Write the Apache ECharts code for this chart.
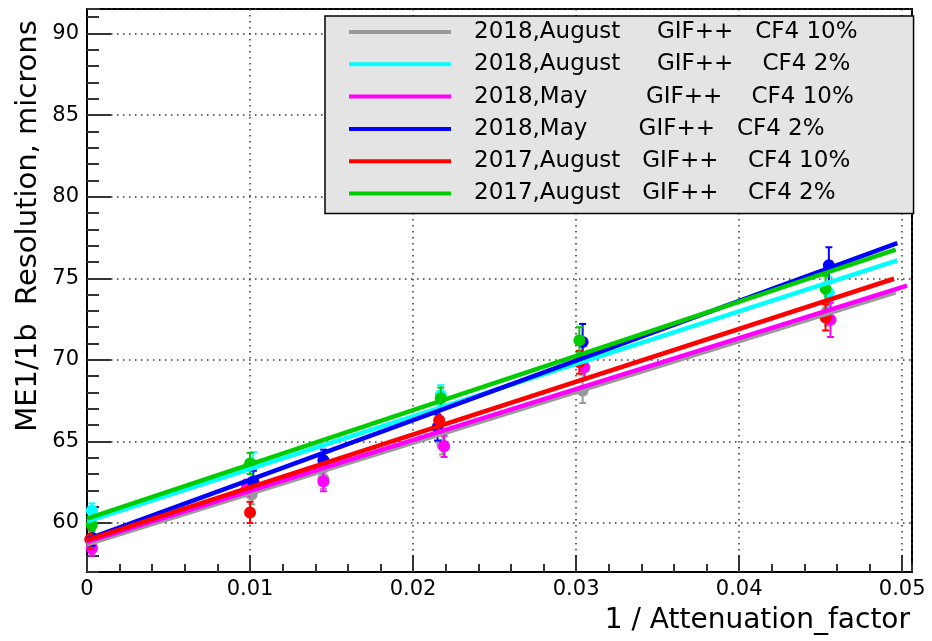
<!DOCTYPE html>
<html>
<head>
<meta charset="utf-8">
<title>ME1/1b resolution vs 1 / Attenuation_factor</title>
<script src="https://cdn.jsdelivr.net/npm/echarts@6/dist/echarts.min.js"></script>
<style>
  html, body { margin: 0; padding: 0; background: #fff; }
  #chart { width: 932px; height: 641px; }
</style>
</head>
<body>
<div id="chart"></div>
<script>
// ---- measurements: x = 1 / attenuation factor, y = resolution (microns), e = error ----
const aug18cf10X = [0.0003, 0.0101, 0.0145, 0.0218, 0.0304, 0.0454];
const aug18cf10Y = [58.55, 61.75, 62.70, 64.80, 68.10, 73.00];
const aug18cf10E = [0.45, 0.60, 0.60, 0.60, 0.75, 0.90];

const aug18cf2X = [0.0003, 0.0102, 0.0217, 0.0304, 0.0455];
const aug18cf2Y = [60.75, 63.55, 67.85, 69.95, 74.10];
const aug18cf2E = [0.45, 0.80, 0.60, 0.90, 1.00];

const may18cf10X = [0.0003, 0.0098, 0.0145, 0.0219, 0.0305, 0.0456];
const may18cf10Y = [58.45, 62.15, 62.55, 64.70, 69.55, 72.45];
const may18cf10E = [0.45, 0.50, 0.60, 0.65, 0.75, 1.05];

const may18cf2X = [0.0003, 0.0102, 0.0145, 0.0215, 0.0304, 0.0455];
const may18cf2Y = [59.10, 62.55, 63.85, 65.85, 71.10, 75.80];
const may18cf2E = [0.50, 0.65, 0.65, 0.80, 1.10, 1.10];

const aug17cf10X = [0.0002, 0.0100, 0.0216, 0.0302, 0.0453];
const aug17cf10Y = [59.00, 60.65, 66.30, 69.85, 72.60];
const aug17cf10E = [0.60, 0.65, 0.75, 0.70, 0.80];

const aug17cf2X = [0.0003, 0.0100, 0.0217, 0.0302, 0.0453];
const aug17cf2Y = [59.90, 63.65, 67.65, 71.20, 74.35];
const aug17cf2E = [0.40, 0.65, 0.65, 0.80, 0.80];

// ---- linear fits: [x, y] at the start and end of each fitted line ----
const aug18cf10Fit = [[0, 58.70], [0.0496, 74.13]];
const aug18cf2Fit  = [[0, 60.10], [0.0497, 76.10]];
const may18cf10Fit = [[0, 58.85], [0.0503, 74.55]];
const may18cf2Fit  = [[0, 59.00], [0.0497, 77.15]];
const aug17cf10Fit = [[0, 58.95], [0.0495, 74.97]];
const aug17cf2Fit  = [[0, 60.27], [0.0496, 76.75]];

const legendNames = [
  '2018,August     GIF++   CF4 10%',
  '2018,August     GIF++    CF4 2%',
  '2018,May        GIF++    CF4 10%',
  '2018,May       GIF++   CF4 2%',
  '2017,August   GIF++    CF4 10%',
  '2017,August   GIF++    CF4 2%'
];

// axis ranges
const xRange = [0, 0.0506];
const yRange = [57, 91.5];
const xMajorStep = 0.01, xMinorStep = 0.002;
const yMajorStep = 5, yMinorStep = 1;

const xTitle = '1 / Attenuation_factor';
const yTitle = 'ME1/1b  Resolution, microns';

// ---- styling ----
const colors = ['#999999', '#00ffff', '#ff00ff', '#0000ff', '#ff0000', '#00cc00'];
const FONT = '"DejaVu Sans", "Liberation Sans", Arial, sans-serif';

const sets = [
  { x: aug18cf10X, y: aug18cf10Y, e: aug18cf10E, fit: aug18cf10Fit },
  { x: aug18cf2X,  y: aug18cf2Y,  e: aug18cf2E,  fit: aug18cf2Fit },
  { x: may18cf10X, y: may18cf10Y, e: may18cf10E, fit: may18cf10Fit },
  { x: may18cf2X,  y: may18cf2Y,  e: may18cf2E,  fit: may18cf2Fit },
  { x: aug17cf10X, y: aug17cf10Y, e: aug17cf10E, fit: aug17cf10Fit },
  { x: aug17cf2X,  y: aug17cf2Y,  e: aug17cf2E,  fit: aug17cf2Fit }
];

const series = [];
sets.forEach((s, k) => {
  const col = colors[k];
  // markers with vertical error bars
  series.push({
    type: 'custom',
    xAxisIndex: 0,
    yAxisIndex: 0,
    data: s.x.map((x, i) => [x, s.y[i], s.e[i]]),
    encode: { x: 0, y: 1 },
    renderItem: function (params, api) {
      const x = api.value(0), y = api.value(1), e = api.value(2);
      const c = api.coord([x, y]);
      const hi = api.coord([x, y + e]);
      const lo = api.coord([x, y - e]);
      const st = { stroke: col, lineWidth: 2 };
      return {
        type: 'group',
        children: [
          { type: 'line', shape: { x1: c[0], y1: hi[1], x2: c[0], y2: lo[1] }, style: st },
          { type: 'line', shape: { x1: c[0] - 3.5, y1: hi[1], x2: c[0] + 3.5, y2: hi[1] }, style: st },
          { type: 'line', shape: { x1: c[0] - 3.5, y1: lo[1], x2: c[0] + 3.5, y2: lo[1] }, style: st },
          { type: 'circle', shape: { cx: c[0], cy: c[1], r: 6 }, style: { fill: col } }
        ]
      };
    },
    silent: true
  });
  // fitted straight line
  series.push({
    type: 'line',
    name: legendNames[k],
    xAxisIndex: 0,
    yAxisIndex: 0,
    data: s.fit,
    symbol: 'none',
    showSymbol: false,
    color: col,
    lineStyle: { color: col, width: 4.5 },
    silent: true
  });
});

const dotted = { color: '#333', width: 1.5, type: [1.5, 4.5] };
const tickStyle = { color: '#333', width: 2 };
const labelStyle = { color: '#000', fontSize: 21, fontFamily: FONT };
const axisLineStyle = { color: '#000', width: 2 };

const chart = echarts.init(document.getElementById('chart'), null, { renderer: 'canvas' });
chart.setOption({
  animation: false,
  backgroundColor: '#fff',
  grid: {
    left: 87, right: 20, top: 9, bottom: 69,
    show: true, borderColor: '#000', borderWidth: 2, backgroundColor: 'transparent'
  },
  xAxis: [
    { // minor ticks
      type: 'value', position: 'bottom', min: xRange[0], max: xRange[1], interval: xMinorStep,
      axisLine: { show: true, onZero: false, lineStyle: axisLineStyle },
      axisTick: { show: true, inside: true, length: 8, lineStyle: tickStyle },
      axisLabel: { show: false },
      splitLine: { show: false }
    },
    { // major ticks, labels, grid
      type: 'value', position: 'bottom', min: xRange[0], max: xRange[1], interval: xMajorStep,
      axisLine: { show: true, onZero: false, lineStyle: axisLineStyle },
      axisTick: { show: true, inside: true, length: 17, lineStyle: tickStyle },
      axisLabel: Object.assign({ margin: 7, showMaxLabel: false }, labelStyle),
      splitLine: { show: true, lineStyle: dotted }
    }
  ],
  yAxis: [
    { // minor ticks
      type: 'value', position: 'left', min: yRange[0], max: yRange[1], interval: yMinorStep,
      axisLine: { show: true, onZero: false, lineStyle: axisLineStyle },
      axisTick: { show: true, inside: true, length: 12, lineStyle: tickStyle },
      axisLabel: { show: false },
      splitLine: { show: false }
    },
    { // major ticks, labels, grid
      type: 'value', position: 'left', min: yRange[0], max: yRange[1],
      minInterval: yMajorStep, maxInterval: yMajorStep,
      axisLine: { show: true, onZero: false, lineStyle: axisLineStyle },
      axisTick: { show: true, inside: true, length: 24, lineStyle: tickStyle },
      axisLabel: Object.assign({ margin: 8, showMinLabel: false, showMaxLabel: false }, labelStyle),
      splitLine: { show: true, lineStyle: dotted }
    }
  ],
  legend: {
    data: legendNames,
    orient: 'vertical',
    left: 325, top: 16,
    padding: [3, 56, 7, 22],
    itemGap: 6.3,
    itemWidth: 102, itemHeight: 14,
    itemStyle: { borderWidth: 0, opacity: 0 },
    lineStyle: { width: 4 },
    backgroundColor: '#e4e4e4',
    borderColor: '#000', borderWidth: 1.5,
    selectedMode: false,
    textStyle: { color: '#000', fontSize: 23, fontFamily: FONT, lineHeight: 26, padding: [0, 0, 0, 18] }
  },
  graphic: [
    {
      type: 'text', x: 910, y: 621, silent: true,
      style: { text: xTitle, fill: '#000', font: '28px ' + FONT, align: 'right', verticalAlign: 'middle' }
    },
    {
      type: 'text', x: 28, y: 226, rotation: Math.PI / 2, silent: true,
      style: { text: yTitle, fill: '#000', font: '29px ' + FONT, align: 'center', verticalAlign: 'middle' }
    }
  ],
  series: series
});
</script>
</body>
</html>
